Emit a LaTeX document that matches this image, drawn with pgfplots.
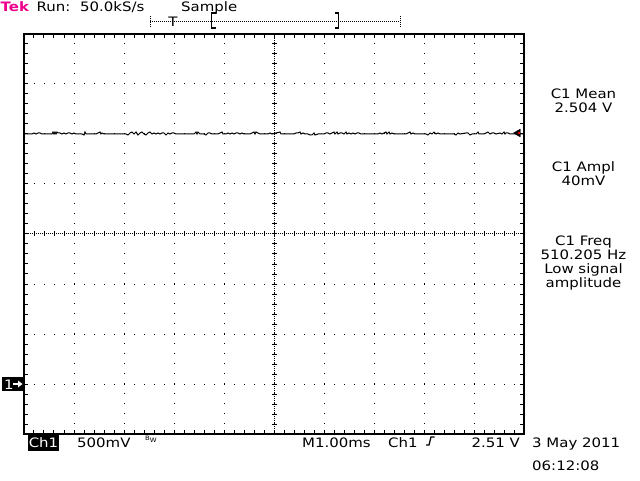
\documentclass[border=0pt]{standalone}
\usepackage{pgfplots}
\pgfplotsset{compat=1.18}
\usepackage{fontspec}
\newfontfamily\tekfam{DejaVu Sans}[FakeStretch=1.15]
\newcommand\tek{\tekfam\fontsize{13}{14}\selectfont}
\begin{document}
\begin{tikzpicture}
\useasboundingbox[fill=white] (0pt,0pt) rectangle (640pt,480pt);
\begin{axis}[
  at={(24pt,46pt)}, anchor=south west,
  scale only axis, width=500pt, height=400pt,
  xmin=0, xmax=10, ymin=-0.5, ymax=3.5,
  xtick={0,1,2,3,4,5,6,7,8,9,10},
  ytick={-0.5,0,0.5,1,1.5,2,2.5,3,3.5},
  minor x tick num=4, minor y tick num=4,
  xticklabels={,,}, yticklabels={,,},
  tick label style={opacity=0, text opacity=0},
  xtick pos=both, ytick pos=both,
  tick align=inside,
  major tick length=4pt, minor tick length=4pt,
  every tick/.style={black, line width=1pt},
  axis line style={black, line width=1.3pt},
  grid=major,
  major grid style={black, line width=1pt, dash pattern=on 1pt off 9pt},
  clip=false,
]
\addplot[black, line width=1pt] table {
0.00 2.50
0.08 2.50
0.16 2.50
0.20 2.51
0.24 2.50
0.28 2.51
0.32 2.51
0.36 2.50
0.48 2.50
0.56 2.50
0.58 2.52
0.60 2.50
0.62 2.52
0.64 2.50
0.66 2.52
0.68 2.51
0.72 2.51
0.76 2.50
0.80 2.51
0.84 2.50
0.88 2.51
0.92 2.51
0.96 2.50
1.00 2.51
1.04 2.50
1.16 2.50
1.20 2.49
1.22 2.52
1.24 2.50
1.44 2.50
1.48 2.51
1.52 2.52
1.54 2.50
1.56 2.51
1.60 2.50
2.00 2.50
2.04 2.50
2.08 2.49
2.12 2.51
2.16 2.52
2.20 2.50
2.24 2.52
2.28 2.49
2.32 2.51
2.36 2.52
2.40 2.50
2.44 2.49
2.48 2.51
2.52 2.52
2.56 2.50
2.60 2.51
2.64 2.50
2.68 2.51
2.72 2.50
2.76 2.51
2.80 2.51
2.84 2.49
2.88 2.51
2.92 2.50
2.96 2.51
3.00 2.51
3.04 2.50
3.40 2.50
3.44 2.52
3.46 2.50
3.48 2.52
3.52 2.50
3.60 2.50
3.64 2.49
3.68 2.51
3.72 2.51
3.76 2.50
3.88 2.50
3.92 2.51
3.96 2.52
3.98 2.50
4.04 2.50
4.08 2.51
4.12 2.50
4.16 2.51
4.20 2.50
4.24 2.51
4.28 2.51
4.32 2.50
4.36 2.51
4.40 2.50
4.52 2.50
4.56 2.51
4.60 2.52
4.62 2.50
4.64 2.52
4.68 2.51
4.72 2.50
4.88 2.50
4.92 2.51
4.96 2.50
5.12 2.52
5.14 2.50
5.40 2.50
5.44 2.51
5.48 2.51
5.52 2.52
5.54 2.50
5.58 2.51
5.62 2.50
5.68 2.50
5.72 2.49
5.76 2.49
5.80 2.51
5.82 2.49
5.88 2.50
6.00 2.50
6.04 2.51
6.08 2.51
6.12 2.50
6.16 2.51
6.20 2.52
6.22 2.50
6.26 2.52
6.28 2.50
6.32 2.51
6.36 2.51
6.40 2.50
6.44 2.52
6.46 2.50
6.50 2.51
6.54 2.50
6.58 2.51
6.62 2.50
6.66 2.51
6.70 2.51
6.74 2.50
7.08 2.50
7.12 2.51
7.16 2.50
7.20 2.51
7.24 2.52
7.26 2.50
7.30 2.52
7.32 2.50
7.36 2.51
7.40 2.50
7.64 2.50
7.68 2.51
7.72 2.52
7.74 2.50
7.78 2.51
7.82 2.50
8.00 2.50
8.04 2.50
8.08 2.49
8.12 2.51
8.16 2.50
8.20 2.52
8.24 2.50
8.28 2.51
8.32 2.50
8.60 2.50
8.64 2.49
8.68 2.51
8.72 2.50
8.84 2.51
8.88 2.51
8.92 2.49
8.96 2.50
9.04 2.50
9.08 2.52
9.10 2.50
9.20 2.50
9.24 2.51
9.28 2.52
9.32 2.50
9.36 2.51
9.40 2.51
9.44 2.50
9.52 2.51
9.56 2.50
9.60 2.52
9.62 2.50
9.64 2.51
9.68 2.51
9.72 2.50
10.00 2.50
};
% trigger level marker (2.51 V)
\addplot[only marks, mark=triangle*, mark size=4.5pt, mark options={rotate=90, fill=black, draw=black}] coordinates {(9.88,2.51)};
\addplot[only marks, mark=*, mark size=1pt, red] coordinates {(9.9,2.51)};
\end{axis}
\begin{scope}[x=1pt, y=-1pt, shift={(0pt,480pt)}]
  % center lines of the graticule
  \draw[black, line width=1pt, dash pattern=on 1pt off 1pt] (24,234) -- (524,234);
  \draw[black, line width=1pt, dash pattern=on 1pt off 1pt] (274,34) -- (274,434);
  \foreach \i in {1,...,49} \draw[black, line width=1pt] ({24+\i*10},231.5) -- ({24+\i*10},236.5);
  \foreach \j in {1,...,39} \draw[black, line width=1pt] (271.5,{34+\j*10}) -- (276.5,{34+\j*10});
  % top status line
  \node[anchor=base west, inner sep=0, text=magenta] at (0.5,12) {\tek\bfseries Tek};
  \node[anchor=base west, inner sep=0] at (36.5,12) {\tek Run:};
  \node[anchor=base west, inner sep=0] at (80,12) {\tek 50.0kS/s};
  \node[anchor=base west, inner sep=0] at (181,12) {\tek Sample};
  \draw[black, line width=1pt, dash pattern=on 1pt off 1pt] (150,22) -- (400,22);
  \draw[black, line width=1pt, dash pattern=on 1pt off 1pt] (150,16) -- (150,28);
  \draw[black, line width=1pt, dash pattern=on 1pt off 1pt] (400,16) -- (400,28);
  \node[anchor=base, inner sep=0] at (173,27) {\tek T};
  \draw[black, line width=1.5pt] (215.5,13) -- (211.5,13) -- (211.5,28) -- (215.5,28);
  \draw[black, line width=1.5pt] (334.5,13) -- (338.5,13) -- (338.5,28) -- (334.5,28);
  % right-hand measurement readouts
  \node[anchor=base, inner sep=0] at (583.5,99) {\tek C1 Mean};
  \node[anchor=base, inner sep=0] at (583.5,113) {\tek 2.504 V};
  \node[anchor=base, inner sep=0] at (583.5,172) {\tek C1 Ampl};
  \node[anchor=base, inner sep=0] at (583.5,186) {\tek 40mV};
  \node[anchor=base, inner sep=0] at (583.5,246) {\tek C1 Freq};
  \node[anchor=base, inner sep=0] at (583.5,260) {\tek 510.205 Hz};
  \node[anchor=base, inner sep=0] at (583.5,273) {\tek Low signal};
  \node[anchor=base, inner sep=0] at (583.5,287) {\tek amplitude};
  % ground marker
  \fill[black] (2,377) rectangle (24,391);
  \node[anchor=base west, inner sep=0, text=white] at (4,389) {\tek 1};
  \draw[white, line width=1.2pt] (13,384) -- (19,384);
  \fill[white] (22.5,384) -- (18,380.5) -- (18,387.5) -- cycle;
  % bottom status line
  \fill[black] (28,435) rectangle (59,451);
  \node[anchor=base, inner sep=0, text=white] at (43.5,447) {\tek Ch1};
  \node[anchor=base west, inner sep=0] at (77,447) {\tek 500mV};
  \node[anchor=base west, inner sep=0] at (145,440) {\tekfam\fontsize{6}{6}\selectfont B\raisebox{-2pt}{W}};
  \node[anchor=base west, inner sep=0] at (302,447) {\tek M1.00ms};
  \node[anchor=base west, inner sep=0] at (388,447) {\tek Ch1};
  \draw[black, line width=1.3pt] (426,445) -- (429,445) -- (431,437) -- (434.5,437);
  \node[anchor=base east, inner sep=0] at (520,447) {\tek 2.51 V};
  \node[anchor=base west, inner sep=0] at (532,447) {\tek 3 May 2011};
  \node[anchor=base west, inner sep=0] at (532,470) {\tek 06:12:08};
\end{scope}
\end{tikzpicture}
\end{document}
